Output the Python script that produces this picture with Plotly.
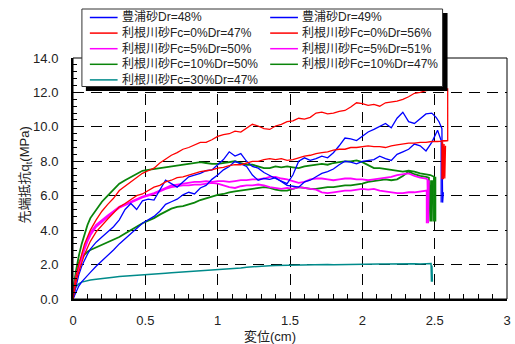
import plotly.graph_objects as go

# ---- data -------------------------------------------------------------
# displacement samples (cm) shared by every test record
disp = [0, 0.005, 0.01, 0.02, 0.03, 0.04, 0.06, 0.08, 0.10, 0.12, 0.16, 0.20,
        0.24, 0.28, 0.32, 0.36, 0.40, 0.44, 0.48, 0.52, 0.56, 0.60,
        0.64, 0.68, 0.72, 0.76, 0.80, 0.84, 0.88, 0.92, 0.96, 1.00,
        1.04, 1.08, 1.12, 1.16, 1.20, 1.24, 1.28, 1.32, 1.36, 1.40,
        1.44, 1.48, 1.52, 1.56, 1.60, 1.64, 1.68, 1.72, 1.76, 1.80,
        1.84, 1.88, 1.92, 1.96, 2.00, 2.04, 2.08, 2.12, 2.16, 2.20,
        2.24, 2.28, 2.32, 2.36, 2.40, 2.44]

# tip resistance qt (MPa)
qt_toyoura_48 = [0, 0.1, 0.2, 0.4, 0.6, 0.75, 1.0, 1.2, 1.4, 1.55, 1.9, 2.2,
                 2.5, 2.85, 3.2, 3.5, 3.8, 4.15, 4.4, 4.6, 4.8, 5.1,
                 5.5, 5.65, 5.8, 6.05, 6.2, 6.1, 6.45, 6.6, 6.95, 7.2,
                 7.5, 7.7, 8.0, 7.85, 7.7, 7.2, 6.9, 7.0, 6.95, 7.05,
                 6.8, 6.6, 6.55, 6.5, 6.8, 6.9, 7.1, 7.3, 7.4, 7.55,
                 7.8, 8.0, 7.95, 7.85, 8.0, 8.05, 8.1, 8.3, 8.15, 8.05,
                 8.4, 8.55, 8.7, 9.0, 8.9, 8.6]
qt_toyoura_49 = [0, 0.2, 0.4, 0.8, 1.1, 1.4, 1.9, 2.3, 2.6, 2.9, 3.3, 3.6,
                 3.9, 4.2, 4.6, 5.2, 5.55, 5.2, 5.7, 5.8, 5.75, 6.3,
                 6.9, 6.7, 6.5, 6.8, 7.1, 7.2, 7.3, 7.45, 7.5, 7.8,
                 8.1, 8.55, 8.3, 8.45, 8.0, 7.7, 7.6, 7.35, 7.15, 7.0,
                 6.85, 6.7, 7.2, 8.0, 8.2, 8.05, 8.15, 8.3, 8.2, 8.5,
                 8.9, 9.35, 9.3, 9.2, 9.45, 9.7, 9.85, 10.05, 10.2, 9.95,
                 10.5, 10.85, 10.3, 10.2, 10.45, 10.75]
qt_tone_fc0_47 = [0, 0.3, 0.55, 0.95, 1.3, 1.6, 2.1, 2.6, 3.0, 3.35, 3.9, 4.3,
                  4.65, 5.0, 5.35, 5.55, 5.8, 6.0, 6.1, 6.3, 6.5, 6.6,
                  6.8, 6.9, 7.05, 7.1, 7.2, 7.3, 7.4, 7.45, 7.5, 7.6,
                  7.65, 7.75, 7.8, 7.8, 7.9, 8.0, 8.0, 8.1, 8.15, 8.1,
                  8.15, 8.05, 8.1, 8.2, 8.3, 8.35, 8.45, 8.5, 8.55, 8.65,
                  8.7, 8.7, 8.8, 8.8, 8.85, 8.9, 8.85, 8.85, 8.8, 8.9,
                  8.95, 9.0, 9.05, 9.05, 9.1, 9.1]
qt_tone_fc0_56 = [0, 0.5, 0.8, 1.3, 1.7, 2.0, 2.6, 3.2, 3.6, 4.0, 4.6, 5.1,
                  5.5, 5.85, 6.3, 6.55, 6.8, 7.05, 7.3, 7.45, 7.6, 7.9,
                  8.15, 8.35, 8.5, 8.7, 8.8, 8.95, 9.1, 9.1, 9.25, 9.45,
                  9.55, 9.6, 9.75, 9.7, 9.95, 10.15, 10.05, 9.9, 9.85, 10.05,
                  10.15, 10.3, 10.35, 10.5, 10.45, 10.55, 10.8, 10.85, 10.75, 10.8,
                  10.9, 10.95, 11.15, 11.4, 11.35, 11.25, 11.3, 11.2, 11.4, 11.45,
                  11.5, 11.6, 11.75, 11.95, 12.0, 12.1]
qt_tone_fc5_50 = [0, 0.35, 0.65, 1.1, 1.5, 1.8, 2.4, 2.9, 3.35, 3.7, 4.2, 4.5,
                  4.8, 5.05, 5.3, 5.45, 5.6, 5.75, 5.9, 6.0, 6.1, 6.25,
                  6.4, 6.5, 6.55, 6.6, 6.6, 6.65, 6.65, 6.7, 6.75, 6.7,
                  6.6, 6.5, 6.45, 6.55, 6.6, 6.6, 6.65, 6.6, 6.5, 6.45,
                  6.4, 6.45, 6.4, 6.5, 6.45, 6.4, 6.35, 6.2, 6.15, 6.2,
                  6.25, 6.3, 6.3, 6.35, 6.4, 6.35, 6.4, 6.3, 6.25, 6.2,
                  6.15, 6.15, 6.2, 6.2, 6.25, 6.3]
qt_tone_fc5_51 = [0, 0.4, 0.7, 1.2, 1.6, 1.9, 2.5, 3.0, 3.45, 3.85, 4.3, 4.6,
                  4.85, 5.1, 5.35, 5.5, 5.65, 5.8, 5.95, 6.05, 6.15, 6.3,
                  6.45, 6.6, 6.65, 6.7, 6.75, 6.8, 6.8, 6.85, 6.8, 6.85,
                  6.85, 6.8, 6.85, 6.9, 6.9, 6.95, 6.95, 7.0, 7.1, 7.1,
                  7.0, 6.95, 6.85, 6.75, 6.8, 6.95, 7.0, 7.0, 6.95, 6.9,
                  6.95, 7.0, 7.0, 6.95, 6.95, 6.9, 6.95, 7.0, 7.05, 7.1,
                  7.2, 7.25, 7.3, 7.15, 7.05, 7.0]
qt_tone_fc10_50 = [0, 0.6, 1.0, 1.6, 2.1, 2.5, 3.2, 3.8, 4.3, 4.7, 5.2, 5.65,
                   6.0, 6.35, 6.7, 6.9, 7.1, 7.3, 7.45, 7.5, 7.55, 7.6,
                   7.65, 7.7, 7.75, 7.8, 7.85, 7.9, 7.95, 7.9, 7.85, 7.85,
                   7.9, 7.95, 8.0, 7.9, 7.8, 7.8, 7.7, 7.6, 7.6, 7.7,
                   7.65, 7.7, 7.65, 7.6, 7.7, 7.75, 7.8, 7.85, 7.8, 7.9,
                   7.95, 8.0, 8.0, 8.05, 7.95, 7.75, 7.6, 7.6, 7.55, 7.5,
                   7.45, 7.4, 7.45, 7.4, 7.3, 7.25]
qt_tone_fc10_47 = [0, 0.5, 0.9, 1.4, 1.8, 2.1, 2.4, 2.6, 2.75, 2.85, 3.0, 3.15,
                   3.3, 3.45, 3.6, 3.8, 4.0, 4.2, 4.4, 4.55, 4.7, 4.9,
                   5.1, 5.25, 5.35, 5.4, 5.5, 5.6, 5.75, 5.85, 5.95, 6.05,
                   6.1, 6.2, 6.25, 6.3, 6.35, 6.4, 6.45, 6.5, 6.45, 6.35,
                   6.3, 6.3, 6.4, 6.5, 6.45, 6.4, 6.4, 6.45, 6.5, 6.5,
                   6.55, 6.6, 6.6, 6.65, 6.7, 6.8, 6.85, 6.9, 6.95, 6.9,
                   6.95, 7.15, 7.4, 7.25, 7.15, 7.1]
qt_tone_fc30_47 = [0, 0.3, 0.5, 0.7, 0.8, 0.88, 0.98, 1.03, 1.07, 1.1, 1.15, 1.2,
                   1.24, 1.27, 1.3, 1.33, 1.36, 1.38, 1.41, 1.43, 1.45, 1.47,
                   1.5, 1.52, 1.54, 1.56, 1.58, 1.6, 1.62, 1.64, 1.67, 1.7,
                   1.72, 1.74, 1.77, 1.8, 1.85, 1.88, 1.9, 1.92, 1.93, 1.94,
                   1.95, 1.95, 1.96, 1.97, 1.97, 1.98, 1.97, 1.98, 2.0, 1.99,
                   2.0, 2.01, 2.0, 2.02, 2.03, 2.03, 2.02, 2.04, 2.03, 2.04,
                   2.05, 2.04, 2.05, 2.05, 2.04, 2.05]

# end of each record: final push and unloading (displacement, qt)
end_toyoura_48 = ([2.48, 2.52, 2.535, 2.545, 2.545], [9.1, 9.8, 9.4, 9.2, 5.6])
end_toyoura_49 = ([2.48, 2.51, 2.53, 2.55, 2.555, 2.56], [10.8, 10.55, 10.3, 9.9, 5.6, 6.2])
end_tone_fc0_47 = ([2.48, 2.52, 2.59, 2.55, 2.55, 2.555, 2.56, 2.565, 2.57, 2.575],
                   [9.15, 9.15, 9.2, 9.2, 6.95, 9.1, 6.95, 9.0, 7.0, 8.9])
end_tone_fc0_56 = ([2.48, 2.52, 2.59, 2.59, 2.56], [12.15, 12.2, 12.2, 9.2, 9.2])
end_tone_fc5_50 = ([2.445, 2.445, 2.45], [6.3, 4.4, 6.2])
end_tone_fc5_51 = ([2.45, 2.455, 2.46], [6.95, 4.4, 6.9])
end_tone_fc10_50 = ([2.47, 2.495, 2.495, 2.5, 2.505, 2.505], [7.2, 7.1, 4.5, 7.0, 4.5, 7.1])
end_tone_fc10_47 = ([2.46, 2.47, 2.475, 2.48, 2.485], [7.05, 4.5, 6.9, 4.5, 6.9])
end_tone_fc30_47 = ([2.475, 2.478, 2.481, 2.484], [2.06, 1.0, 1.95, 1.0])

x_ticks = [0, 0.5, 1, 1.5, 2, 2.5, 3]

# series in legend order (row by row, two columns)
series = [
    ("豊浦砂Dr=48%", "#0000ff", 1.3, qt_toyoura_48, end_toyoura_48),
    ("豊浦砂Dr=49%", "#0000ff", 1.3, qt_toyoura_49, end_toyoura_49),
    ("利根川砂Fc=0%Dr=47%", "#ff0000", 1.3, qt_tone_fc0_47, end_tone_fc0_47),
    ("利根川砂Fc=0%Dr=56%", "#ff0000", 1.3, qt_tone_fc0_56, end_tone_fc0_56),
    ("利根川砂Fc=5%Dr=50%", "#ff00ff", 1.8, qt_tone_fc5_50, end_tone_fc5_50),
    ("利根川砂Fc=5%Dr=51%", "#ff00ff", 1.8, qt_tone_fc5_51, end_tone_fc5_51),
    ("利根川砂Fc=10%Dr=50%", "#0a840a", 1.8, qt_tone_fc10_50, end_tone_fc10_50),
    ("利根川砂Fc=10%Dr=47%", "#0a840a", 1.8, qt_tone_fc10_47, end_tone_fc10_47),
    ("利根川砂Fc=30%Dr=47%", "#008b8b", 1.5, qt_tone_fc30_47, end_tone_fc30_47),
]

# ---- layout geometry (pixels) ----------------------------------------
W, H = 515, 344
ML, MR, MT, MB = 73, 4, 58, 45
PW, PH = W - ML - MR, H - MT - MB
FONT = "Liberation Sans, Arial, Noto Sans CJK JP, sans-serif"


def px(x):
    return (x - ML) / PW


def py(y):
    return (H - MB - y) / PH


fig = go.Figure()
draw_order = [8, 6, 7, 4, 5, 0, 1, 2, 3]
for i in draw_order:
    name, color, width, q, (ex, eq) = series[i]
    fig.add_trace(go.Scatter(
        x=disp + ex, y=q + eq, mode="lines", name=name,
        line=dict(color=color, width=width), showlegend=False,
        hoverinfo="skip"))

shapes = [
    # plot frame (thin top/right edges)
    dict(type="rect", xref="paper", yref="paper", x0=0, x1=1, y0=0, y1=1,
         line=dict(color="black", width=1), layer="above"),
    # legend drop shadow and box
    dict(type="rect", xref="paper", yref="paper", x0=px(86), x1=px(451),
         y0=py(91), y1=py(13), fillcolor="black", line=dict(width=0),
         layer="above"),
    dict(type="rect", xref="paper", yref="paper", x0=px(82), x1=px(446),
         y0=py(86.5), y1=py(9), fillcolor="white",
         line=dict(color="#333333", width=1), layer="above"),
]
annotations = []
for i, (name, color, width, q, _) in enumerate(series):
    row, col = divmod(i, 2)
    x0 = 90 if col == 0 else 272
    yc = 17.5 + 15.6 * row
    shapes.append(dict(type="line", xref="paper", yref="paper",
                       x0=px(x0), x1=px(x0 + 28), y0=py(yc), y1=py(yc),
                       line=dict(color=color, width=1.5), layer="above"))
    annotations.append(dict(text=name, xref="paper", yref="paper",
                            x=px(x0 + 30), y=py(yc), xanchor="left",
                            yanchor="middle", showarrow=False,
                            font=dict(family=FONT, size=12, color="#222222")))

annotations.append(dict(text="先端抵抗q<sub>t</sub>(MPa)", xref="paper",
                        yref="paper", x=px(25), y=py(175), textangle=-90,
                        xanchor="center", yanchor="middle", showarrow=False,
                        font=dict(family=FONT, size=13, color="#222222")))
annotations.append(dict(text="変位(cm)", xref="paper", yref="paper",
                        x=px(272), y=py(336), xanchor="center",
                        yanchor="middle", showarrow=False,
                        font=dict(family=FONT, size=13, color="#222222")))

axis_common = dict(
    showline=True, linecolor="black", linewidth=2,
    showgrid=True, gridcolor="black", gridwidth=1, griddash="11px,7px",
    zeroline=False, ticks="inside", tickcolor="black", tickwidth=1,
    tickfont=dict(family=FONT, size=13, color="#222222"),
)

fig.update_layout(
    width=W, height=H,
    margin=dict(l=ML, r=MR, t=MT, b=MB, pad=0),
    paper_bgcolor="white", plot_bgcolor="white",
    shapes=shapes, annotations=annotations,
    xaxis=dict(range=[0, 3], tickvals=x_ticks, ticklen=5,
               ticklabelstandoff=8,
               minor=dict(dtick=0.1, ticks="inside", ticklen=5,
                          tickcolor="black", showgrid=False),
               **axis_common),
    yaxis=dict(range=[0, 14], dtick=2, tickformat=".1f", ticklen=5,
               ticklabelstandoff=10,
               minor=dict(dtick=0.4, ticks="inside", ticklen=4,
                          tickcolor="black", showgrid=False),
               **axis_common),
)

fig.write_html("out.html")
